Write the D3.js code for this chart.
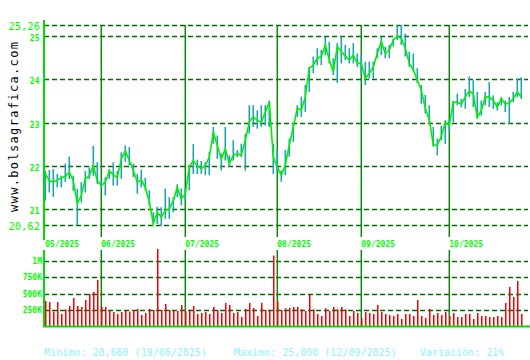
<!DOCTYPE html>
<html><head><meta charset="utf-8">
<script src="https://cdn.jsdelivr.net/npm/d3@7"></script>
<style>body{margin:0;background:#fff}svg{display:block}</style>
</head><body><svg id="c" width="530" height="360"></svg>
<script>
const closes=[21.81,21.65,21.62,21.67,21.72,21.75,21.85,21.65,21.12,21.31,
21.69,21.77,22.00,21.65,21.54,21.62,21.88,21.79,21.73,22.15,
22.34,22.12,21.89,21.62,21.67,21.50,21.16,20.66,20.92,20.81,
20.96,21.00,21.19,21.50,21.23,21.35,21.97,22.12,22.00,21.93,
22.01,22.20,22.78,22.47,22.16,22.39,22.05,22.24,22.28,22.24,
22.59,23.01,23.13,23.05,23.01,23.24,23.47,22.20,21.97,21.78,
22.01,22.48,22.90,23.33,23.29,23.60,24.26,24.33,24.49,24.53,
24.80,24.45,24.18,24.76,24.64,24.54,24.45,24.56,24.37,24.37,
24.02,24.14,24.29,24.60,24.87,24.60,24.68,24.91,25.00,24.95,
24.72,24.37,24.22,23.98,23.75,23.33,23.06,22.48,22.48,22.68,
23.01,22.93,23.47,23.47,23.43,23.59,23.73,23.67,23.12,23.28,
23.59,23.59,23.51,23.36,23.55,23.43,23.45,23.55,23.71,23.59];
const highs=[21.88,21.90,21.92,21.81,21.77,22.05,22.21,21.77,21.46,21.62,
21.88,21.96,22.46,22.08,21.65,21.73,21.92,22.08,21.88,22.31,
22.47,22.43,22.05,21.81,21.91,21.72,21.43,20.92,21.05,21.04,
21.47,21.27,21.27,21.57,21.47,21.50,22.01,22.50,22.14,22.11,
22.08,22.32,22.90,22.70,22.28,22.90,22.24,22.59,22.36,22.51,
22.74,23.40,23.40,23.28,23.40,23.40,23.51,22.51,22.36,21.89,
22.36,22.63,22.98,23.40,23.60,23.87,24.29,24.53,24.72,24.68,
24.99,24.87,24.49,24.84,25.00,24.80,24.72,24.84,24.60,24.56,
24.41,24.41,24.41,24.72,24.99,24.76,24.80,24.95,25.26,25.26,
25.06,24.64,24.60,24.26,23.87,23.64,23.40,22.90,22.63,22.92,
23.05,23.09,23.51,23.67,23.55,23.78,24.07,23.98,23.71,23.51,
23.71,23.94,23.63,23.47,23.59,23.51,23.59,23.71,24.02,24.05];
const lows=[21.19,21.38,21.28,21.50,21.50,21.62,21.69,21.42,20.62,21.15,
21.38,21.69,21.77,21.58,21.50,21.31,21.69,21.54,21.54,21.70,
22.09,22.01,21.74,21.35,21.50,21.43,21.08,20.65,20.65,20.61,
20.77,20.77,20.92,21.27,21.08,21.19,21.43,21.81,21.81,21.81,
21.78,21.78,22.51,22.16,21.89,22.12,21.97,22.12,22.20,22.20,
21.89,22.74,22.90,22.86,22.90,22.93,22.90,21.81,21.89,21.63,
21.78,22.21,22.55,23.13,23.13,23.25,23.71,24.14,24.33,24.33,
24.56,24.37,24.10,23.92,24.37,24.45,24.37,24.37,24.29,24.14,
23.87,24.02,24.02,24.49,24.56,24.49,24.49,24.76,24.91,24.80,
24.53,24.29,24.18,23.91,23.44,23.21,22.98,22.44,22.24,22.59,
22.50,22.81,23.01,23.40,23.35,23.32,23.59,23.36,23.09,23.16,
23.40,23.36,23.32,23.28,23.40,23.24,22.97,23.47,23.59,23.55];
const volumes=[387,371,222,371,186,258,309,433,309,294,
402,495,526,711,300,294,237,216,186,216,
237,222,237,263,170,201,263,247,1190,247,
340,247,232,232,325,230,253,309,186,201,
216,186,294,247,201,356,325,201,216,139,
263,356,278,155,358,247,250,1088,376,247,
273,278,294,294,258,232,479,258,186,155,
273,232,294,258,294,258,155,232,201,119,
216,201,186,325,216,186,170,155,186,108,
186,186,155,402,155,124,263,170,201,170,
216,155,201,139,139,186,186,108,201,155,
155,139,139,155,139,356,603,448,696,186];
const monthStarts=[0,14,35,58,79,101];
const monthLabels=["05/2025","06/2025","07/2025","08/2025","09/2025","10/2025"];
const priceTicks=[25,24,23,22,21];
const priceMin=20.62, priceMax=25.26;
const volTicks=[250,500,750,1000];
const volTickLabels=["250K","500K","750K","1M"];
const statsText=["Minimo: 20,660 (19/06/2025)","Maximo: 25,000 (12/09/2025)","Variación: 21%"];
const siteText="www.bolsagrafica.com";

const svg=d3.select("#c");
const x=d3.scaleLinear().domain([0,closes.length-1]).range([45.3,521.3]);
const y=d3.scaleLinear().domain([priceMin,priceMax]).range([225.3,25]);
const yv=d3.scaleLinear().domain([0,1000]).range([326,261.3]);
const mono="'DejaVu Sans Mono', 'Liberation Mono', monospace";
const gridColor="#006b00", monthColor="#0a8a0a", axisColor="#00dd00", labelColor="#00ff00";
const X0=44, X1=528;

// price grid
svg.append("g").selectAll("line").data(priceTicks.concat([priceMin,priceMax])).join("line")
 .attr("x1",X0).attr("x2",X1).attr("y1",d=>Math.round(y(d))+0.5).attr("y2",d=>Math.round(y(d))+0.5)
 .attr("stroke",gridColor).attr("stroke-width",1.5).attr("stroke-dasharray","5,3");
// volume grid
svg.append("g").selectAll("line").data(volTicks).join("line")
 .attr("x1",X0).attr("x2",X1).attr("y1",d=>Math.round(yv(d))+0.5).attr("y2",d=>Math.round(yv(d))+0.5)
 .attr("stroke",gridColor).attr("stroke-width",1.5).attr("stroke-dasharray","5,3");

// month lines
svg.append("g").selectAll("line").data(monthStarts.slice(1)).join("line")
 .attr("x1",d=>x(d)).attr("x2",d=>x(d)).attr("y1",25).attr("y2",237)
 .attr("stroke",monthColor).attr("stroke-width",1.5);
svg.append("g").selectAll("line").data(monthStarts.slice(1)).join("line")
 .attr("x1",d=>x(d)).attr("x2",d=>x(d)).attr("y1",250).attr("y2",326)
 .attr("stroke",monthColor).attr("stroke-width",1.5);

// high-low bars
svg.append("g").selectAll("line").data(closes).join("line")
 .attr("x1",(d,i)=>x(i)).attr("x2",(d,i)=>x(i))
 .attr("y1",(d,i)=>y(highs[i])).attr("y2",(d,i)=>y(lows[i]))
 .attr("stroke","#1fa3b3").attr("stroke-width",1.6);
// close line
svg.append("path").datum(closes)
 .attr("d",d3.line().x((d,i)=>x(i)).y(d=>y(d)))
 .attr("fill","none").attr("stroke","#00f000").attr("stroke-width",1.6);

// volume bars
svg.append("g").selectAll("rect").data(volumes).join("rect")
 .attr("x",(d,i)=>Math.floor(x(i))).attr("width",1.5)
 .attr("y",d=>Math.max(249,yv(d))).attr("height",d=>yv(0)-Math.max(249,yv(d)))
 .attr("fill","#ee0000");

// axes
svg.append("line").attr("x1",44).attr("x2",44).attr("y1",20).attr("y2",240)
 .attr("stroke",axisColor).attr("stroke-width",2);
svg.append("line").attr("x1",44).attr("x2",44).attr("y1",250).attr("y2",327)
 .attr("stroke",axisColor).attr("stroke-width",2);
svg.append("line").attr("x1",43).attr("x2",530).attr("y1",326.5).attr("y2",326.5)
 .attr("stroke",axisColor).attr("stroke-width",2);

// price labels
svg.append("g").selectAll("text").data(priceTicks).join("text")
 .attr("x",39.5).attr("y",d=>y(d)+5).attr("text-anchor","end")
 .attr("font-family",mono).attr("font-size",8).attr("font-weight","bold")
 .attr("fill",labelColor).text(d=>d);
svg.append("g").selectAll("text").data([priceMax,priceMin]).join("text")
 .attr("x",40).attr("y",d=>y(d)+5).attr("text-anchor","end")
 .attr("font-family",mono).attr("font-size",10.5)
 .attr("fill",labelColor).text(d=>d.toFixed(2).replace(".",","));
// volume labels
svg.append("g").selectAll("text").data(volTicks).join("text")
 .attr("x",42).attr("y",d=>yv(d)+3).attr("text-anchor","end")
 .attr("font-family",mono).attr("font-size",8).attr("font-weight","bold")
 .attr("fill",labelColor).text((d,i)=>volTickLabels[i]);
// month labels
svg.append("g").selectAll("text").data(monthStarts).join("text")
 .attr("x",d=>x(d)).attr("y",246.5)
 .attr("font-family",mono).attr("font-size",8).attr("font-weight","bold")
 .attr("fill",labelColor).text((d,i)=>monthLabels[i]);
// site text
svg.append("text").attr("transform","translate(17.5,127) rotate(-90)")
 .attr("text-anchor","middle").attr("font-family",mono).attr("font-size",12)
 .attr("textLength",170).attr("lengthAdjust","spacing")
 .attr("fill","#000").text(siteText);
// stats
const statX=[44.3,234,420];
svg.append("g").selectAll("text").data(statsText).join("text")
 .attr("x",(d,i)=>statX[i]).attr("y",356)
 .attr("font-family",mono).attr("font-size",10)
 .attr("fill","#8ff2ff").text(d=>d);
</script></body></html>
